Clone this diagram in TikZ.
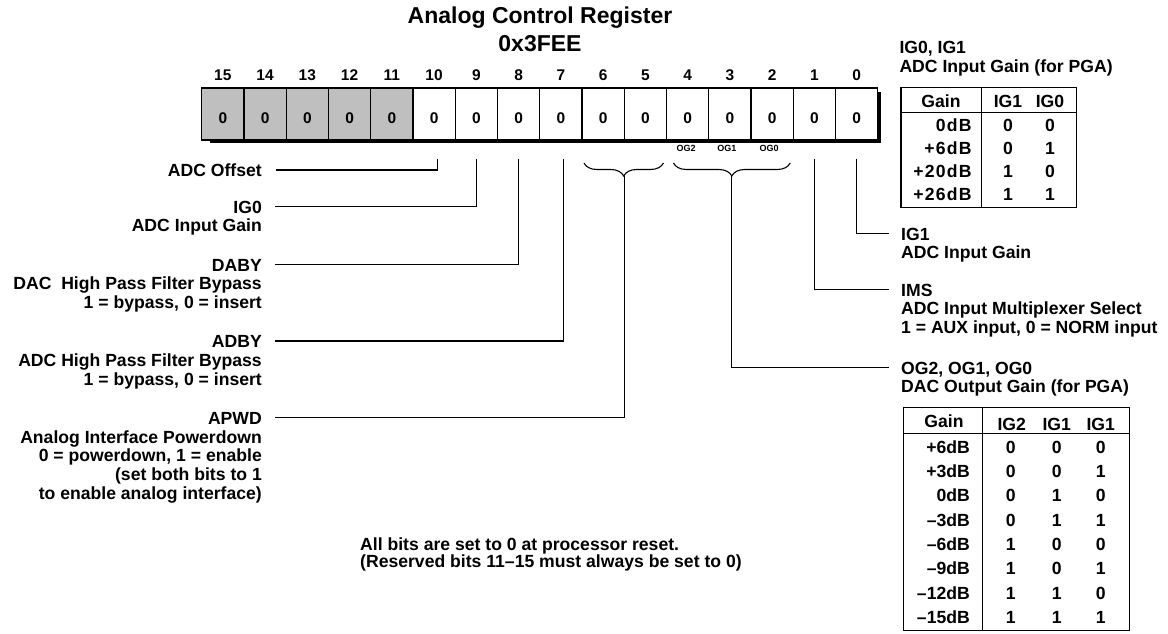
\documentclass[tikz,border=0pt]{standalone}
\usepackage{fontspec}
\setmainfont{Liberation Sans}
\usetikzlibrary{positioning,calc,decorations.pathreplacing}

\newcommand\ttlfont{\fontsize{23pt}{27.7pt}\selectfont\bfseries}
\newcommand\labfont{\fontsize{17.6pt}{18.8pt}\selectfont\bfseries}
\newcommand\notefont{\fontsize{17.6pt}{16.5pt}\selectfont\bfseries\lineskiplimit=-50pt}
\newcommand\bitfont{\fontsize{15.5pt}{16pt}\selectfont\bfseries}
\newcommand\cellfont{\fontsize{15.5pt}{16pt}\selectfont\bfseries}
\newcommand\ogfont{\fontsize{9pt}{10pt}\selectfont\bfseries}
\newcommand\rstack[1]{\begin{tabular}[t]{@{}r@{}}#1\end{tabular}}
\newcommand\lstack[1]{\begin{tabular}[t]{@{}l@{}}#1\end{tabular}}

\begin{document}
\begin{tikzpicture}[
  x=1pt,y=-1pt,
  label distance=7.5pt,
  cell/.style={draw,line width=1.1pt,minimum width=42.25pt,minimum height=52pt,inner sep=0pt,outer sep=0pt,font=\cellfont,text height=18pt,text depth=0pt},
  rsv/.style={cell,fill=black!25},
  bitno/.style={font=\bitfont,inner sep=0pt},
  lab/.style={font=\labfont,inner sep=0pt},
  labl/.style={lab,anchor=base east},
  labr/.style={lab,anchor=base west},
  ogno/.style={font=\ogfont,inner sep=0pt,anchor=base},
  wire/.style={line width=1.2pt},
  brc/.style={decorate,decoration={brace,mirror,amplitude=13pt},line width=1.1pt},
  tab/.style={draw,line width=1.4pt,inner sep=0pt,outer sep=0pt},
  rule/.style={line width=1.4pt},
  tx/.style={font=\labfont,inner sep=0pt,anchor=base},
  dbv/.style={font=\labfont\addfontfeature{LetterSpace=7},inner sep=0pt,anchor=base east}
]
\useasboundingbox (0,0) rectangle (1168,634);

\node[font=\ttlfont,align=center,anchor=base,inner sep=0pt] (title) at (540,51.7) {Analog Control Register\\0x3FEE};

\node[rsv,label={[bitno]above:15}] (b15) at (222.825,114) {0};
\node[rsv,right=0pt of b15,label={[bitno]above:14}] (b14) {0};
\node[rsv,right=0pt of b14,label={[bitno]above:13}] (b13) {0};
\node[rsv,right=0pt of b13,label={[bitno]above:12}] (b12) {0};
\node[rsv,right=0pt of b12,label={[bitno]above:11}] (b11) {0};
\node[cell,right=0pt of b11,label={[bitno]above:10}] (b10) {0};
\node[cell,right=0pt of b10,label={[bitno]above:9}] (b9) {0};
\node[cell,right=0pt of b9,label={[bitno]above:8}] (b8) {0};
\node[cell,right=0pt of b8,label={[bitno]above:7}] (b7) {0};
\node[cell,right=0pt of b7,label={[bitno]above:6}] (b6) {0};
\node[cell,right=0pt of b6,label={[bitno]above:5}] (b5) {0};
\node[cell,right=0pt of b5,label={[bitno]above:4}] (b4) {0};
\node[cell,right=0pt of b4,label={[bitno]above:3}] (b3) {0};
\node[cell,right=0pt of b3,label={[bitno]above:2}] (b2) {0};
\node[cell,right=0pt of b2,label={[bitno]above:1}] (b1) {0};
\node[cell,right=0pt of b1,label={[bitno]above:0}] (b0) {0};
\draw[line width=3pt] ([shift={(8pt,-1.5pt)}]b15.south west) -| ([shift={(1.5pt,-4pt)}]b0.north east);

\node[ogno] (og2) at ($(b4.south)+(-1.5,11.7)$) {OG2};
\node[ogno] (og1) at ($(b3.south)+(-3,11.7)$) {OG1};
\node[ogno] (og0) at ($(b2.south)+(-3,11.7)$) {OG0};
\draw[brc] ($(b6.south west)+(2,23)$) -- ($(b5.south east)+(-3,23)$);
\draw[brc] ($(b4.south west)+(7,23)$) -- ($(b2.south east)+(-3,23)$);
\coordinate (pwdtip) at ($(b6.south east)+(0,36)$);
\coordinate (ogtip) at ($(b3.south)+(2,36)$);

\node[labl] (adcoff) at (262,176.5) {ADC Offset};
\node[labl] (ig0) at (262,213) {\rstack{IG0\\ADC Input Gain}};
\node[labl] (daby) at (262,271) {\rstack{DABY\\DAC\ \ High Pass Filter Bypass\\1 = bypass, 0 = insert}};
\node[labl] (adby) at (262,347.5) {\rstack{ADBY\\ADC High Pass Filter Bypass\\1 = bypass, 0 = insert}};
\node[labl,font={\labfont\baselineskip=17.9pt}] (apwd) at (262,424.3) {\rstack{APWD\\Analog Interface Powerdown\\0 = powerdown, 1 = enable\\(set both bits to 1\\to enable analog interface)}};

\node[labr,font={\labfont\baselineskip=20.5pt}] (igsel) at (899.3,53.3) {\lstack{IG0, IG1\\ADC Input Gain (for PGA)}};
\node[labr] (ig1) at (901,240) {\lstack{IG1\\ADC Input Gain}};
\node[labr] (ims) at (901,296) {\lstack{IMS\\ADC Input Multiplexer Select\\1 = AUX input, 0 = NORM input}};
\node[labr,font={\labfont\baselineskip=20pt}] (ogsel) at (901,374) {\lstack{OG2, OG1, OG0\\DAC Output Gain (for PGA)}};

\draw[wire] ([shift={(13.5pt,6.5pt)}]adcoff.base east) -| ([shift={(3.7pt,-19pt)}]b10.south);
\draw[wire] ([shift={(13pt,6.5pt)}]ig0.base east) -| ([yshift=-19pt]b9.south);
\draw[wire] ([shift={(13pt,6.5pt)}]daby.base east) -| ([yshift=-19pt]b8.south);
\draw[wire] ([shift={(13pt,6.5pt)}]adby.base east) -| ([shift={(3pt,-19pt)}]b7.south);
\draw[wire] ([shift={(13pt,6.5pt)}]apwd.base east) -| (pwdtip);
\draw[wire] ([yshift=-19pt]b0.south) |- ([shift={(-12pt,6.5pt)}]ig1.base west);
\draw[wire] ([yshift=-19pt]b1.south) |- ([shift={(-12pt,6.5pt)}]ims.base west);
\draw[wire] (ogtip) |- ([shift={(-12pt,6.5pt)}]ogsel.base west);

\node[tab,minimum width=175.7pt,minimum height=119.6pt] (igtab) at (988.85,147.5) {};
\draw[rule] ([xshift=80.7pt]igtab.north west) -- ([xshift=80.7pt]igtab.south west);
\draw[rule] ([yshift=-25pt]igtab.north west) -- ([yshift=-25pt]igtab.north east);
\node[tx] (igh1) at (941,107.3) {Gain};
\node[tx] (igh2) at (1008,107.3) {IG1};
\node[tx] (igh3) at (1050,107.3) {IG0};
\foreach \gn/\p/\q [count=\r from 0] in {0dB/0/0,+6dB/0/1,+20dB/1/0,+26dB/1/1}{
  \node[dbv] (igg\r) at (971.7,{131.7+22.77*\r}) {\gn};
  \node[tx] (igp\r) at (1008,{131.7+22.77*\r}) {\p};
  \node[tx] (igq\r) at (1050,{131.7+22.77*\r}) {\q};
}

\node[tab,minimum width=226pt,minimum height=223.4pt] (ogtab) at (1016.3,519) {};
\draw[rule] ([xshift=79pt]ogtab.north west) -- ([xshift=79pt]ogtab.south west);
\draw[rule] ([yshift=-26pt]ogtab.north west) -- ([yshift=-26pt]ogtab.north east);
\node[tx] (ogh1) at (944,427.3) {Gain};
\node[tx] (ogh2) at (1011.7,430.7) {IG2};
\node[tx] (ogh3) at (1056.7,430.7) {IG1};
\node[tx] (ogh4) at (1100.7,430.7) {IG1};
\foreach \gn/\p/\q/\s [count=\r from 0] in {+6dB/0/0/0,+3dB/0/0/1,0dB/0/1/0,–3dB/0/1/1,–6dB/1/0/0,–9dB/1/0/1,–12dB/1/1/0,–15dB/1/1/1}{
  \node[tx,anchor=base east] (ogg\r) at (970,{453.3+24.29*\r}) {\gn};
  \node[tx] (ogp\r) at (1010.7,{453.3+24.29*\r}) {\p};
  \node[tx] (ogq\r) at (1056.7,{453.3+24.29*\r}) {\q};
  \node[tx] (ogs\r) at (1100.7,{453.3+24.29*\r}) {\s};
}

\node[font=\notefont,align=left,anchor=base west,inner sep=0pt] (note) at (360,567) {All bits are set to 0 at processor reset.\\(Reserved bits 11–15 must always be set to 0)};
\end{tikzpicture}
\end{document}
